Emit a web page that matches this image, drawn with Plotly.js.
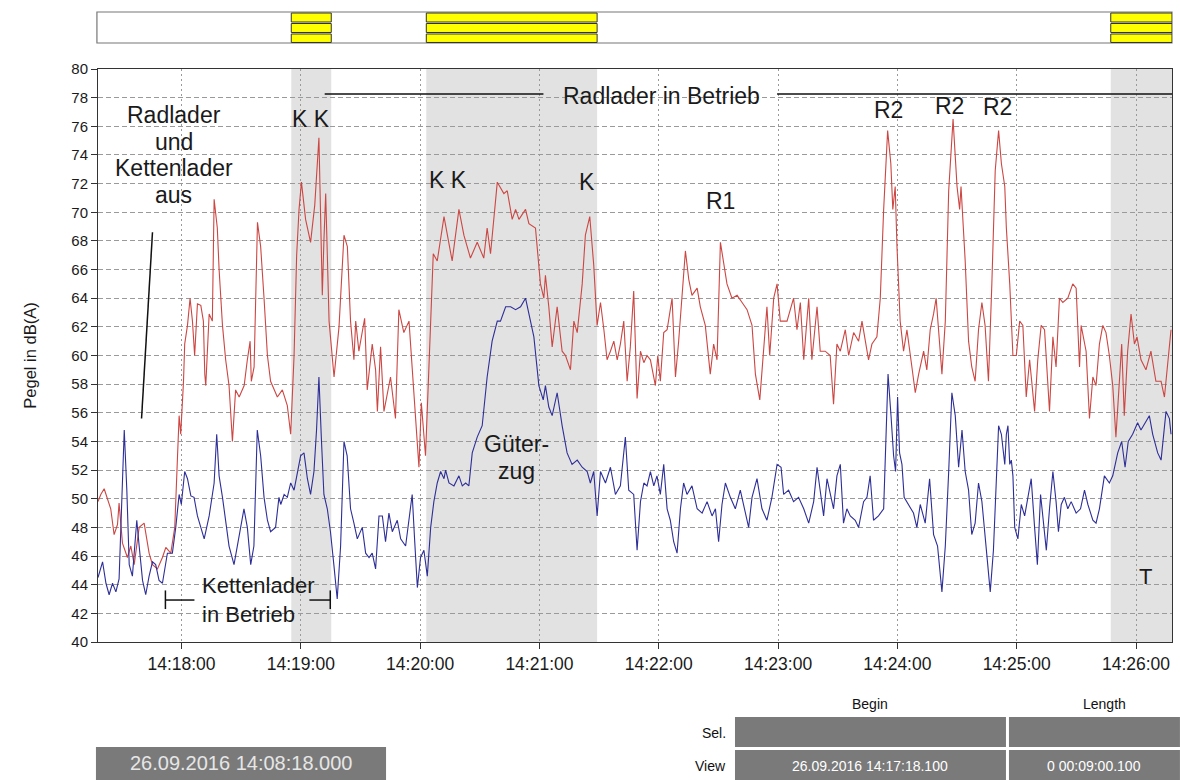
<!DOCTYPE html>
<html>
<head>
<meta charset="utf-8">
<script src="https://cdn.plot.ly/plotly-3.0.1.min.js"></script>
<style>html,body{margin:0;padding:0;background:#fff;}#chart{width:1180px;height:780px;}</style>
</head>
<body>
<div id="chart"></div>
<script>
// time offsets in seconds from 14:17:18 (26.09.2016)
const redT = [0,1.4,3.1,6.4,8.1,9.8,10.6,12.3,14.8,16.5,18.2,20.7,23.2,25.7,27.4,29.9,32.4,34.1,36.6,38.6,40,40.8,41.6,43,43.6,45,46.3,47.5,48.6,50,51.7,53,53.7,54.2,55.9,57.5,58.4,60,60.9,62.6,64.2,65.9,67.6,69.2,71,73.5,75.1,76.5,77.1,78.5,80.2,81.8,83.5,85.2,86.8,90.2,92.7,95.2,96.9,98.6,99.9,101.1,102.3,104.4,106.9,109,111.1,112.8,113.6,114.5,116.2,118.7,121.2,123.7,125.4,127,128.7,129.6,131.2,134.1,135.4,137.9,139.6,140.5,142.1,143.8,147.1,149.6,151.3,153.8,156.4,158.9,161.4,162.6,164.7,167.2,168.6,170.6,172.3,174,178.1,181.5,184,187.3,190.7,194,195.7,197.4,200.8,204.1,205.8,208.3,210,211.7,215,216.7,220,222.5,224.2,225,226.7,228.4,230.9,233.4,235.1,237.6,239.3,241,243.5,245.1,247.3,249.3,251,252.7,254.4,256,257.7,259.4,261.1,262.7,264.4,266.1,267.7,269.4,271.1,272.8,274.5,276.1,277.8,280.3,281.5,282.8,284.5,286.2,288.7,290.4,292,293.7,295.4,297.1,298.7,301.3,302.9,305.4,307.9,309.6,311.3,313,315,316.3,318.8,321.4,323.9,326.4,328.9,330.6,332.8,334.8,336.4,337.8,339.8,341.5,343.1,346.5,349.8,351.5,353.2,354.9,357.4,359,361.6,363.2,365.7,368.2,369.9,371.6,373.3,375.8,377.5,380,382.5,384.2,385.8,387.5,389.2,391.7,393.4,395.1,397.1,398.7,399.7,400.9,401.8,403.4,405.1,406.8,409.3,411,412.7,415.2,416.8,418.5,420.2,421.5,422.7,424.4,426.1,427.8,430,432,433.3,434,436.1,437.8,439.4,441.1,442.8,444.5,446.1,447.8,449.5,451.2,452.9,454.3,456,456.8,458.5,459.3,460.1,461.8,463.5,465.1,466.8,468.5,469.3,471,472.6,474.3,476,478.5,480.2,481.8,483.5,485.2,487.7,490.2,491.9,493.6,494.4,496.9,498.6,500.3,501.9,503.6,505.3,506.9,508.6,510.3,511.9,513.6,514.8,516.1,517.8,519.5,521.2,522.5,524.5,527,529.5,532,534.6,536.3,537.9,539.6];
const redV = [49.8,50.3,50.7,49.3,47.5,48.2,49.7,46.9,45.9,46.7,45.4,48.0,48.3,46.2,45.4,45.1,45.9,46.6,46.2,48.0,53,55.8,54.5,58.2,60.8,62.1,64,62.4,60.0,63.6,63.5,62.4,58.7,57.9,62.9,62.4,70.9,68.9,66,62.1,59.7,57.9,54,57.6,57.1,57.9,59.7,61,58.2,59.2,69.3,67.6,64,60.0,58.2,57.1,57.6,56.5,54.5,60,67,70.2,72.1,69.5,67.9,70.5,75.2,64.2,68,71.3,62.4,58.5,62,68.4,67.6,62.4,59.7,62.4,60.3,62.6,57.6,60.8,59,56.1,60.6,56.1,58.5,55.6,63.2,61.6,62.4,57.1,52.2,56.7,53.0,62,67.1,66.6,68.2,69.7,66.6,70.2,68.4,66.8,67.9,66.8,68.9,67.1,72.1,71.3,71.5,69.5,70.2,69.5,70.2,69.2,68.9,65,64,65.6,63.4,60.6,63.4,60.3,60,59,62.4,61.6,65,68.4,69.7,66.3,62.1,63.7,61.8,59.7,60.3,61,59.7,60.8,62.4,58.2,60.6,64.5,57,60.3,59.5,60,59.7,57.9,60,58.2,61.6,61.8,64,58.5,61,64.5,67.3,65.3,64.2,64.7,63.4,62.1,58.7,60.8,59.7,67.9,66,65,64,64.2,63.7,63.2,62.1,58.7,56.9,60.3,63.4,60,64,65,62.4,62.4,64,61.8,63.7,59.7,64,59.7,63.4,60.3,60.3,60,56.6,60.8,60.3,61.8,60,61.6,61,62.4,61,59.7,60.8,61.3,64,70.2,75.7,73.4,70.2,71.8,67.6,62.4,60.3,61.8,59.2,57.4,58.7,60.3,59,61.8,62.9,64,61.8,58.7,62.4,71.5,76.5,71.8,70.2,71.8,66.6,61,59.2,58.2,61.8,63.7,62.1,58.2,65,72.9,75.7,73.4,71.8,68.9,65,62.4,60,60,62.4,62.1,57.1,59.7,58.5,56.1,59.7,62.1,61.8,56.1,61.3,59.2,64,63.7,64,65,64.7,59.2,62.1,60.3,55.6,58.5,57.9,60.8,62.1,61.6,60,57.9,54.3,58.5,60.8,55.8,60.3,62.9,60.8,61.3,59.7,59,60.3,58.2,58.2,57.1,59.5,61.8];
const blueT = [0,0.6,2.3,4,5.6,7.3,9,10.6,11.8,13.2,14.5,15.7,17.3,19.5,20.7,22.4,24,25.7,27.4,29,30.7,32.4,34.9,37.4,39.1,40.8,41.9,43.6,45,46.7,48.3,50,51.7,53.4,55.9,58.4,59.7,60.9,62.6,64.2,65.9,68.4,70.1,71.7,73.4,75.1,76.8,78.4,80.1,81.8,83.5,85.2,86.8,89.3,91,91.9,93.6,95.2,96.9,98.6,100.2,101.9,103.6,105.3,106.9,108.6,109.9,111.1,112.3,113.6,115.3,116.9,118.6,120.3,122,123.7,125.3,127,128.7,130.4,132.9,134.6,136.3,137.9,139.6,141.3,143,144.6,146.3,148,150.5,152.2,154.7,156.4,158,159.2,160.6,162.2,163.9,165.6,167.3,168.9,170.6,172.3,174,174.8,176.5,179,181.5,183.2,184.9,186.5,188.2,190.7,193.2,195.7,198.2,200.8,202.4,205,207.5,210,212.5,215,216.7,219.2,221.7,223.9,225,226.7,228.4,230.9,233.4,235.9,238.4,241,243.5,246,247.6,249.3,251,252.7,255.2,257.7,260.2,262.7,265.2,266.9,269.4,271.1,272.8,274.5,276.1,277.8,279.5,281.1,282.8,284.5,286.2,287.8,289.5,291.2,292.9,294.5,296.2,298.7,301.3,303.8,306.3,308.8,310.5,312.1,313.8,315.5,318,320.5,323,324.7,327.2,328.9,331.4,333.9,336.4,338.9,341.5,343.5,344.8,347.3,349.8,352.3,354.9,357.4,359.9,361.6,363.2,364.9,366.6,368.2,369.9,371.6,373.3,374.9,376.6,378.3,380.8,382.5,385,386.7,388.3,390,392.5,395.1,395.9,397.3,398.8,400.1,401.1,402.1,403.1,404.3,405.4,407.6,410.1,411.8,413.5,416,418.2,420.2,422.2,424.4,426.1,427.8,429.4,431.1,432.8,434.5,436.1,437.8,439.4,441.1,442.8,444.5,446.1,448.7,450.3,452.9,454.3,456,456.8,457.6,458.5,459.3,460.1,461,462.6,464.3,466,467.7,469.3,471,472.4,474,475.2,476.9,478.5,480.2,481.8,483,484.4,486,487.7,489.4,491.9,494.1,496.1,497.8,500.3,501.9,503.6,506.1,508.6,510.3,512.8,514.8,516.5,518.1,520.3,522.8,524.5,528.7,530.4,532.9,534.6,537.1,538.8,539.6];
const blueV = [44.5,44.8,45.6,44.1,43.3,44.1,43.5,44.4,49.0,54.8,50.6,45.4,44.6,48.5,46.7,44.3,43.3,44.6,45.6,45.4,44.3,44.1,46.2,46.2,48.0,50.3,49.6,51.9,51.4,50.2,50.1,48.8,48.0,47.2,48.8,51.1,54.5,51.6,50.1,48.3,46.7,45.4,46.7,48.0,49.3,48.0,45.4,46.7,54.8,53,50.1,48.5,47.7,48.0,50.1,49.6,50.3,50.1,51.1,50.6,51.9,53,53.2,51.4,50.3,51.9,54.8,58.5,54.3,50.3,49.3,47.7,45.4,43.0,46.7,54.0,53.0,49.3,48.3,47.2,48.0,46.2,45.9,46.2,45.1,48.8,48.8,47,49.0,47.7,48.5,47.2,46.7,48.5,50.3,47.2,43.8,45.9,46.4,44.6,48.0,49.8,51.1,51.9,51.4,52,51.1,50.9,51.6,50.9,51.1,50.9,53.2,54.3,55.1,58.5,61,62.4,62.4,63.4,63.4,63.2,63.4,64,62.9,61.3,57.9,56.9,57.9,56.4,55.8,57.4,55.1,53.2,52.4,52.7,52.2,51.9,51.1,51.9,48.8,51.9,51.1,52.2,50.3,50.9,54.3,50.6,50.3,46.4,49.8,51.1,50.9,51.9,50.9,51.6,50.3,52.4,49.3,48.5,47.0,46.2,49.3,51.1,50.3,50.9,49.3,49.0,49.8,48.8,49.3,47.0,49.6,51.1,50.1,49.3,50.6,49.6,48.0,50.1,51.4,49.3,48.5,50.1,52.4,52.2,50.3,50.6,49.8,50.1,49.3,48.3,49.8,52.2,50.6,48.8,51.4,50.3,49.3,51.6,52.4,48.3,49.3,48.8,48.5,48.0,49.8,50.1,51.6,48.5,48.8,49.3,53.0,58.7,55.8,53.0,51.9,57.1,53.2,52.4,50.1,49.6,49.0,48.0,49.6,48.3,51.4,47.5,46.7,43.5,46.7,51.9,57.4,55.8,52.2,54.8,51.9,50.6,47.5,48.3,51.1,49.8,47.2,43.5,46.4,55.1,54.5,52.4,54.5,55.1,52.4,52.7,51.6,48.0,47.2,49.6,48.8,50.3,51.4,48.0,45.4,50.3,48.5,46.4,49.3,51.9,49.8,47.7,49.6,50.1,49.3,49.8,49.0,49.3,50.6,49.6,48.5,48.3,49.3,51.6,51.1,51.6,53.2,54.0,52.2,54.0,54.5,55.3,54.8,55.8,54.5,53.2,52.7,56.1,55.6,54.5];

// shaded intervals (s) and other event times
const shadeStart = [97.2, 165.1, 509.3];
const shadeEnd   = [117.3, 251.0, 540.1];
const minuteTicks = [42, 102, 162, 222, 282, 342, 402, 462, 522];
const yTicks = [40,42,44,46,48,50,52,54,56,58,60,62,64,66,68,70,72,74,76,78,80];

const baseSec = 14*3600 + 17*60 + 18;
function ts(s){
  const tot = baseSec + s;
  const h = Math.floor(tot/3600), m = Math.floor((tot%3600)/60), sec = tot - h*3600 - m*60;
  const whole = Math.floor(sec), ms = Math.round((sec-whole)*1000);
  const p = n => String(n).padStart(2,'0');
  return '2016-09-26 ' + p(h)+':'+p(m)+':'+p(whole)+'.'+String(ms).padStart(3,'0');
}

const FONT = 'Liberation Sans, Arial, sans-serif';
const traces = [
  {x: redT.map(ts), y: redV, type:'scatter', mode:'lines', line:{color:'#cc4743', width:1.1}, hoverinfo:'skip'},
  {x: blueT.map(ts), y: blueV, type:'scatter', mode:'lines', line:{color:'#2e2e98', width:1.1}, hoverinfo:'skip'}
];

const shapes = [];
for (let i=0;i<shadeStart.length;i++){
  shapes.push({type:'rect', xref:'x', yref:'y', x0:ts(shadeStart[i]), x1:ts(shadeEnd[i]), y0:40, y1:80,
    fillcolor:'#e2e2e2', line:{width:0}, layer:'below'});
}
// top status bar
shapes.push({type:'rect', xref:'paper', yref:'paper', x0:-0.001, x1:1.0, y0:1.0454, y1:1.0995, fillcolor:'#ffffff', line:{color:'#777', width:1.2}, layer:'above'});
const rows = [[1.0820,1.0977],[1.0637,1.0794],[1.0463,1.0611]];
for (let i=0;i<shadeStart.length;i++){
  for (const r of rows){
    shapes.push({type:'rect', xref:'x', yref:'paper', x0:ts(shadeStart[i]), x1:ts(shadeEnd[i]), y0:r[0], y1:r[1],
      fillcolor:'#ffff00', line:{color:'#333', width:1}, layer:'above'});
  }
}
const L = {color:'#111', width:1.5};
// Radlader in Betrieb line (broken around text)
shapes.push({type:'line', xref:'x', yref:'y', x0:ts(114), x1:ts(224), y0:78.25, y1:78.25, line:L});
shapes.push({type:'line', xref:'x', yref:'y', x0:ts(341.5), x1:ts(540.1), y0:78.25, y1:78.25, line:L});
// pointer line
shapes.push({type:'line', xref:'x', yref:'y', x0:ts(27.4), x1:ts(21.9), y0:68.6, y1:55.6, line:L});
// Kettenlader bracket
shapes.push({type:'line', xref:'x', yref:'y', x0:ts(33.9), x1:ts(33.9), y0:42.3, y1:43.6, line:L});
shapes.push({type:'line', xref:'x', yref:'y', x0:ts(33.9), x1:ts(48.5), y0:42.93, y1:42.93, line:L});
shapes.push({type:'line', xref:'x', yref:'y', x0:ts(106.3), x1:ts(116.8), y0:42.93, y1:42.93, line:L});
shapes.push({type:'line', xref:'x', yref:'y', x0:ts(116.8), x1:ts(116.8), y0:42.3, y1:43.6, line:L});
// bottom boxes
shapes.push({type:'rect', xref:'paper', yref:'paper', x0:-0.0019, x1:0.2682, y0:-0.2408, y1:-0.1832, fillcolor:'#7a7a7a', line:{width:0}, layer:'above'});
shapes.push({type:'rect', xref:'paper', yref:'paper', x0:0.5931, x1:0.8454, y0:-0.1832, y1:-0.1309, fillcolor:'#7a7a7a', line:{width:0}, layer:'above'});
shapes.push({type:'rect', xref:'paper', yref:'paper', x0:0.8482, x1:1.0074, y0:-0.1832, y1:-0.1309, fillcolor:'#7a7a7a', line:{width:0}, layer:'above'});
shapes.push({type:'rect', xref:'paper', yref:'paper', x0:0.5931, x1:0.8454, y0:-0.2408, y1:-0.1885, fillcolor:'#7a7a7a', line:{width:0}, layer:'above'});
shapes.push({type:'rect', xref:'paper', yref:'paper', x0:0.8482, x1:1.0074, y0:-0.2408, y1:-0.1885, fillcolor:'#7a7a7a', line:{width:0}, layer:'above'});

function ann(t, v, text, size, extra){
  return Object.assign({xref:'x', yref:'y', x:ts(t), y:v, text:text, showarrow:false,
    font:{family:FONT, size:size||23, color:'#1a1a1a'}, xanchor:'center', yanchor:'middle'}, extra||{});
}
function pann(x, y, text, size, color, extra){
  return Object.assign({xref:'paper', yref:'paper', x:x, y:y, text:text, showarrow:false,
    font:{family:FONT, size:size, color:color}, xanchor:'center', yanchor:'middle'}, extra||{});
}
const annotations = [
  ann(283.2, 78.1, 'Radlader in Betrieb'),
  ann(38.0, 76.79, 'Radlader'),
  ann(38.0, 74.9, 'und'),
  ann(38.0, 73.09, 'Kettenlader'),
  ann(38.0, 71.2, 'aus'),
  ann(51.5, 42.93, 'Kettenlader<br>in Betrieb', 22, {xanchor:'left', align:'left'}),
  ann(107.0, 76.5, 'K K'),
  ann(175.9, 72.25, 'K K'),
  ann(245.7, 72.08, 'K'),
  ann(313.1, 70.8, 'R1'),
  ann(397.7, 77.17, 'R2'),
  ann(428.1, 77.44, 'R2'),
  ann(452.5, 77.35, 'R2'),
  ann(210.3, 53.85, 'Güter-'),
  ann(210.3, 51.95, 'zug'),
  ann(527.0, 44.57, 'T', 22),
  pann(0.1331, -0.2112, '26.09.2016 14:08:18.000', 20, '#e6e6e6'),
  pann(0.7188, -0.2164, '26.09.2016 14:17:18.100', 14, '#ffffff'),
  pann(0.9274, -0.2164, '0 00:09:00.100', 14, '#ffffff'),
  pann(0.7188, -0.1082, 'Begin', 14, '#111'),
  pann(0.9376, -0.1082, 'Length', 14, '#111'),
  pann(0.5866, -0.1588, 'Sel.', 14, '#111', {xanchor:'right'}),
  pann(0.5866, -0.2164, 'View', 14, '#111', {xanchor:'right'})
];

const layout = {
  width:1180, height:780,
  margin:{l:98, r:8, t:69, b:138},
  paper_bgcolor:'#ffffff', plot_bgcolor:'#ffffff',
  showlegend:false,
  font:{family:FONT, color:'#111'},
  xaxis:{type:'date', range:[ts(0), ts(540.1)], tickvals:minuteTicks.map(ts), tickformat:'%H:%M:%S',
    showgrid:true, gridcolor:'#9a9a9a', griddash:'2px,3px', gridwidth:1,
    ticks:'outside', ticklen:6, tickcolor:'#333', showline:true, mirror:true, linecolor:'#333', linewidth:1,
    zeroline:false, tickfont:{size:17.5, family:FONT, color:'#1a1a1a'}},
  yaxis:{range:[40,80], tickvals:yTicks, showgrid:true, gridcolor:'#9a9a9a', griddash:'5px,3px', gridwidth:1,
    ticks:'outside', ticklen:6, tickcolor:'#333', showline:true, mirror:true, linecolor:'#333', linewidth:1,
    zeroline:false, tickfont:{size:15, family:FONT, color:'#1a1a1a'},
    title:{text:'Pegel in dB(A)', font:{size:16.5, family:FONT, color:'#1a1a1a'}, standoff:30}},
  shapes:shapes,
  annotations:annotations
};
Plotly.newPlot('chart', traces, layout, {staticPlot:true, displayModeBar:false});
</script>
</body>
</html>
